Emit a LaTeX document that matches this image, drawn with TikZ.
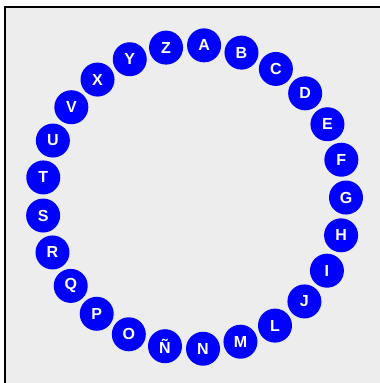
\documentclass[tikz,border=0pt]{standalone}
\usepackage{fontspec}
\setmainfont{Liberation Sans}
\usetikzlibrary{calc}
\definecolor{bg}{HTML}{EDEDED}
\definecolor{ball}{HTML}{0000FF}
\tikzset{
  letter/.style={circle, fill=ball, minimum size=34pt, inner sep=0pt,
    text=white, font=\fontsize{16}{16}\selectfont\bfseries}
}
\begin{document}
\begin{tikzpicture}[x=1pt,y=-1pt]
\useasboundingbox (0,0) rectangle (380,383);
\fill[white] (0,0) rectangle (380,383);
\fill[bg] (5,7) rectangle (380,383);
\draw[black, line width=1.5pt] (5,383) -- (5,7) -- (380,7);
\coordinate (c) at (194,197);
\foreach \l [count=\i from 0] in {A,B,C,D,E,F,G,H,I,J,L,M,N,Ñ,O,P,Q,R,S,T,U,V,X,Y,Z} {
  \pgfmathsetmacro{\ang}{86.2-14.4*\i}
  \node[letter] (n\i) at ($(c)+({152*cos(\ang)},{-152*sin(\ang)})$) {\l};
}
\end{tikzpicture}
\end{document}
